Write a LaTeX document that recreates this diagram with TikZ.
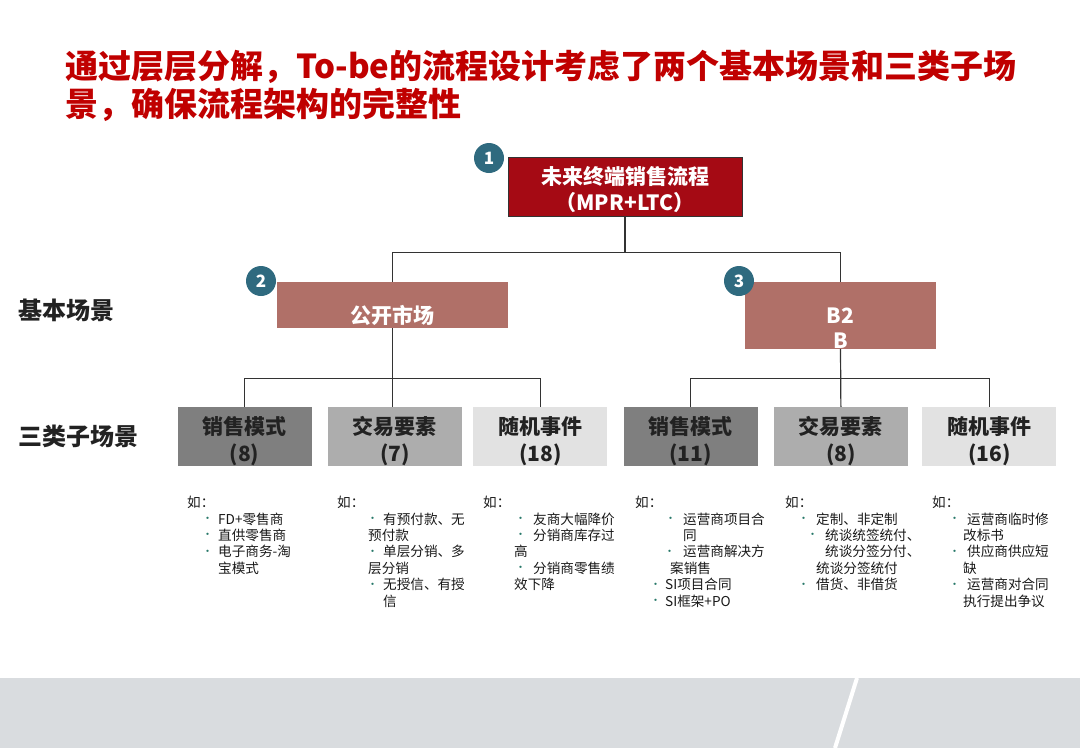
\documentclass[tikz,border=0pt]{standalone}
\usepackage{fontspec}
\setmainfont{Noto Sans CJK SC}
\usetikzlibrary{positioning}

\definecolor{titlered}{RGB}{192,0,0}
\definecolor{rootred}{RGB}{165,10,20}
\definecolor{scenerose}{RGB}{176,112,104}
\definecolor{numteal}{RGB}{47,106,127}
\definecolor{subdark}{RGB}{127,127,127}
\definecolor{submid}{RGB}{173,173,173}
\definecolor{sublight}{RGB}{226,226,226}
\definecolor{inkgray}{RGB}{34,34,34}
\definecolor{linegray}{RGB}{51,51,51}
\definecolor{dotgreen}{RGB}{40,120,105}
\definecolor{bandgray}{RGB}{217,220,223}

\newcommand{\blt}{\makebox[0pt][l]{\raisebox{1.5pt}{\textcolor{dotgreen}{\fontsize{11}{11}\selectfont •}}}}

\begin{document}
\begin{tikzpicture}[x=1pt, y=-1pt,
    every node/.style={inner sep=0pt},
    root/.style={draw=linegray, line width=0.8pt, fill=rootred, minimum width=234pt, minimum height=59pt},
    roottext/.style={text=white, align=center, font=\fontsize{21}{26}\selectfont\bfseries},
    scene/.style={fill=scenerose, minimum height=46pt},
    scenetext/.style={text=white, align=center, font=\fontsize{21}{25}\selectfont\bfseries},
    num/.style={circle, fill=numteal, text=white, minimum size=30pt, font=\fontsize{17}{17}\selectfont\bfseries},
    sub/.style={minimum width=134pt, minimum height=59pt,
        label={[text=inkgray, align=center, font=\fontsize{21}{27}\selectfont\bfseries, yshift=-5pt]center:#1}},
    tier/.style={anchor=west, text=inkgray, font=\fontsize{24}{24}\selectfont\bfseries},
    note/.style={anchor=north west, align=left, text=black!90, font=\fontsize{13.6}{16.4}\selectfont},
    link/.style={draw=linegray, line width=1.2pt},
]
    \useasboundingbox (0,0) rectangle (1080,748);

    % footer band
    \fill[bandgray] (0,678) rectangle (1080,748);
    \draw[white, line width=4pt] (857,678) -- (835,748);

    % title
    \node[anchor=north west, align=left, text=titlered, font=\fontsize{33}{38}\selectfont\bfseries] (title) at (65,50)
        {通过层层分解，To-be的流程设计考虑了两个基本场景和三类子场\\景，确保流程架构的完整性};

    % level 1
    \node[root, label={[roottext, yshift=-3pt]center:未来终端销售流程\\（MPR+LTC）}] (root) at (625,186.5) {};

    % level 2
    \node[scene, minimum width=231pt, label={[scenetext, yshift=-10pt]center:公开市场}] (mkt) at (392.5,305) {};
    \node[scene, minimum width=191pt, minimum height=67pt, label={[scenetext, yshift=-13pt]center:B2\\B}] (btob) at (840.5,315.5) {};

    \node[num] (n1) at (489,158) {1};
    \node[num] (n2) at (261,281) {2};
    \node[num] (n3) at (739,281) {3};

    \node[tier] (basic) at (18,310) {基本场景};
    \node[tier] (three) at (18,436) {三类子场景};

    % level 3
    \node[sub={销售模式\\(8)}, fill=subdark] (mode1) at (244.5,436.5) {};
    \node[sub={交易要素\\(7)}, fill=submid, right=16pt of mode1] (deal1) {};
    \node[sub={随机事件\\(18)}, fill=sublight, right=11pt of deal1] (event1) {};
    \node[sub={销售模式\\(11)}, fill=subdark] (mode2) at (690.5,436.5) {};
    \node[sub={交易要素\\(8)}, fill=submid, right=16pt of mode2] (deal2) {};
    \node[sub={随机事件\\(16)}, fill=sublight, right=14pt of deal2] (event2) {};

    % tree lines
    \draw[link] (root.south) -- ++(0,36) -| (mkt.north);
    \draw[link] (root.south) -- ++(0,36) -| (btob.north);
    \draw[link] (mkt.south) -- (mkt.south |- deal1.north);
    \draw[link] (mkt.south) -- ++(0,50) -| (mode1.north);
    \draw[link] (mkt.south) -- ++(0,50) -| (event1.north);
    \draw[link] (btob.south) -- (deal2.north);
    \draw[link] (btob.south) -- ++(0,29) -| (mode2.north);
    \draw[link] (btob.south) -- ++(0,29) -| (event2.north);

    % examples
    \node[note] (ex1) at (187,496) {如：\\
        \hspace*{15pt}\blt\hspace*{16pt}FD+零售商\\
        \hspace*{15pt}\blt\hspace*{16pt}直供零售商\\
        \hspace*{15pt}\blt\hspace*{16pt}电子商务-淘\\
        \hspace*{31pt}宝模式};
    \node[note] (ex2) at (337,496) {如：\\
        \hspace*{30pt}\blt\hspace*{16pt}有预付款、无\\
        \hspace*{31pt}预付款\\
        \hspace*{30pt}\blt\hspace*{16pt}单层分销、多\\
        \hspace*{31pt}层分销\\
        \hspace*{30pt}\blt\hspace*{16pt}无授信、有授\\
        \hspace*{46pt}信};
    \node[note] (ex3) at (483,496) {如：\\
        \hspace*{32pt}\blt\hspace*{18pt}友商大幅降价\\
        \hspace*{32pt}\blt\hspace*{18pt}分销商库存过\\
        \hspace*{31pt}高\\
        \hspace*{32pt}\blt\hspace*{18pt}分销商零售绩\\
        \hspace*{31pt}效下降};
    \node[note] (ex4) at (635,496) {如：\\
        \hspace*{30pt}\blt\hspace*{18pt}运营商项目合\\
        \hspace*{48pt}同\\
        \hspace*{29pt}\blt\hspace*{19pt}运营商解决方\\
        \hspace*{35pt}案销售\\
        \hspace*{15pt}\blt\hspace*{15pt}SI项目合同\\
        \hspace*{15pt}\blt\hspace*{15pt}SI框架+PO};
    \node[note] (ex5) at (785,496) {如：\\
        \hspace*{13pt}\blt\hspace*{18pt}定制、非定制\\
        \hspace*{22pt}\blt\hspace*{18pt}统谈统签统付、\\
        \hspace*{40pt}统谈分签分付、\\
        \hspace*{31pt}统谈分签统付\\
        \hspace*{13pt}\blt\hspace*{18pt}借货、非借货};
    \node[note] (ex6) at (932,496) {如：\\
        \hspace*{17pt}\blt\hspace*{18pt}运营商临时修\\
        \hspace*{31pt}改标书\\
        \hspace*{17pt}\blt\hspace*{18pt}供应商供应短\\
        \hspace*{31pt}缺\\
        \hspace*{17pt}\blt\hspace*{18pt}运营商对合同\\
        \hspace*{31pt}执行提出争议};
\end{tikzpicture}
\end{document}
